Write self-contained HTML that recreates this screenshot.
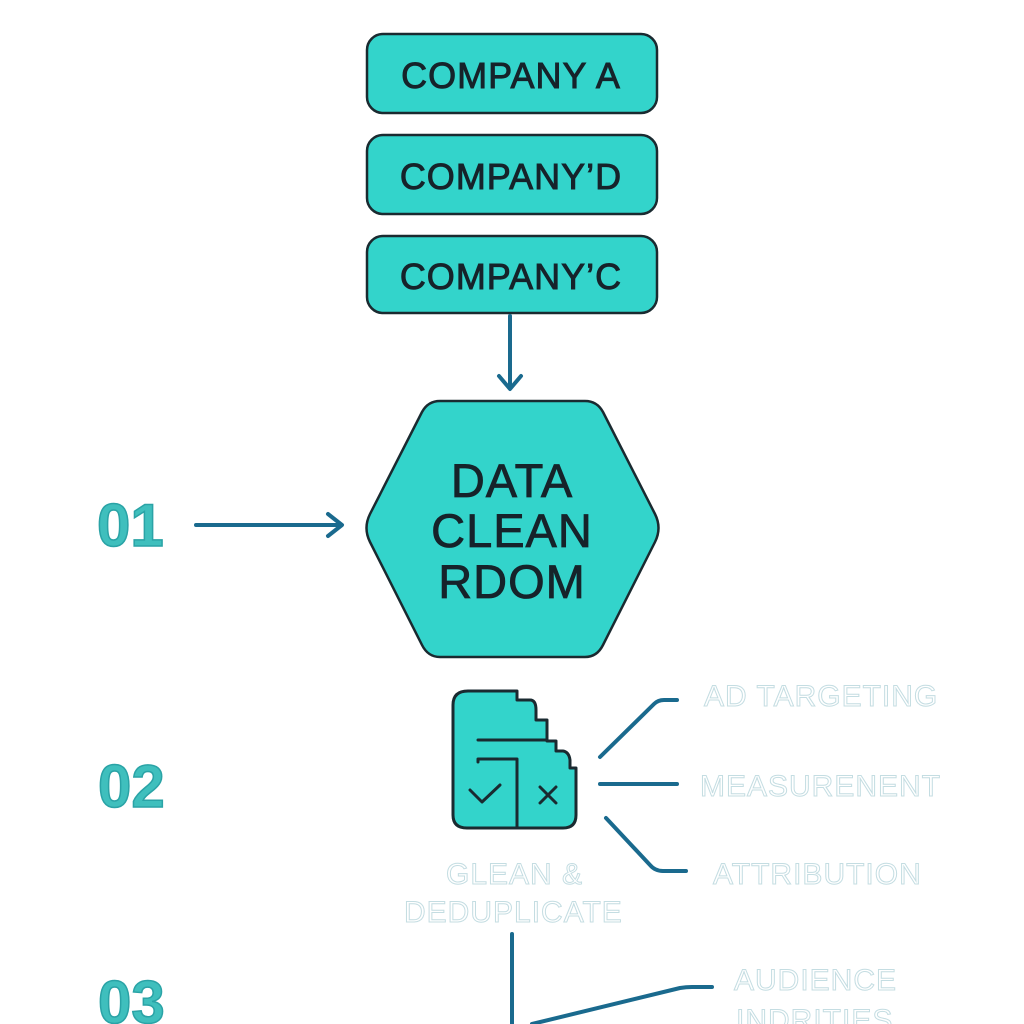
<!DOCTYPE html>
<html><head><meta charset="utf-8"><style>
html,body{margin:0;padding:0;background:#fff;width:1024px;height:1024px;overflow:hidden}
svg{display:block}
.b{font-family:"Liberation Sans",sans-serif}
.o{font-family:"Liberation Sans",sans-serif;fill:#fff;stroke:#c4dde2;stroke-width:1}
</style></head><body>
<svg width="1024" height="1024" viewBox="0 0 1024 1024" xmlns="http://www.w3.org/2000/svg">
<g fill="#33d4cb" stroke="#1a2a30" stroke-width="2.5">
<rect x="367" y="34" width="290" height="79" rx="16"/>
<rect x="367" y="135" width="290" height="79" rx="16"/>
<rect x="367" y="236" width="290" height="77" rx="16"/>
<path d="M440,401 L585,401 Q597,401 603,412 L655,514 Q662,528 655,542 L603,645 Q597,657 585,657 L440,657 Q428,657 422,645 L370,542 Q363,528 370,514 L422,412 Q428,401 440,401 Z"/>
</g>
<g class="b" fill="#16232a" stroke="#16232a" stroke-width="0.9" font-size="36" text-anchor="middle" letter-spacing="1">
<text x="511" y="88">COMPANY A</text>
<text x="511" y="189">COMPANY’D</text>
<text x="511" y="289">COMPANY’C</text>
</g>
<g class="b" fill="#16232a" stroke="#16232a" stroke-width="0.8" font-size="47" text-anchor="middle" letter-spacing="1">
<text x="512" y="497">DATA</text>
<text x="512" y="547">CLEAN</text>
<text x="512" y="598">RDOM</text>
</g>
<g fill="none" stroke="#1a6a8e" stroke-width="4" stroke-linecap="round" stroke-linejoin="round">
<line x1="510" y1="316" x2="510" y2="388"/>
<path d="M499,376 L510,389 L521,376"/>
<line x1="196" y1="525" x2="340" y2="525"/>
<path d="M328,514 L342,525 L328,536"/>
<path d="M600,757 L654,704 Q658,700 664,700 L677,700"/>
<line x1="600" y1="784" x2="677" y2="784"/>
<path d="M606,818 L650,865 Q655,871 663,871 L686,871"/>
<line x1="512" y1="934" x2="512" y2="1024"/>
<path d="M532,1024 L680,988 Q686,987 692,987 L712,987"/>
</g>
<g class="b" fill="#3fbfbd" stroke="#2aa3a6" stroke-width="1.5" font-size="60" font-weight="bold">
<text x="97" y="546">01</text>
<text x="98" y="807">02</text>
<text x="98" y="1023">03</text>
</g>
<g stroke="#1a2a30" stroke-width="3" stroke-linejoin="round" stroke-linecap="round">
<path fill="#33d4cb" d="M468,691 L517,691 L517,700 L530,700 Q536,700 536,710 L536,720 L547,720 L547,741 L556,741 L556,751 L563,751 Q569,752 570,760 L570,768 L576,768 L576,815 Q576,828 563,828 L467,828 Q453,828 453,815 L453,705 Q453,691 468,691 Z"/>
<path fill="none" d="M478,740 L547,740 M478,762 L478,759 L517,759 L517,828 M470,790 L482,802 L500,785 M540,787 L556,803 M556,787 L540,803"/>
</g>
<g class="o" font-size="30" letter-spacing="1">
<text x="704" y="706">AD TARGETING</text>
<text x="700" y="796">MEASURENENT</text>
<text x="713" y="884">ATTRIBUTION</text>
<text x="446" y="884">GLEAN &amp;</text>
<text x="404" y="922">DEDUPLICATE</text>
<text x="734" y="990">AUDIENCE</text>
<text x="736" y="1030">INDRITIES</text>
</g>
</svg>
</body></html>
